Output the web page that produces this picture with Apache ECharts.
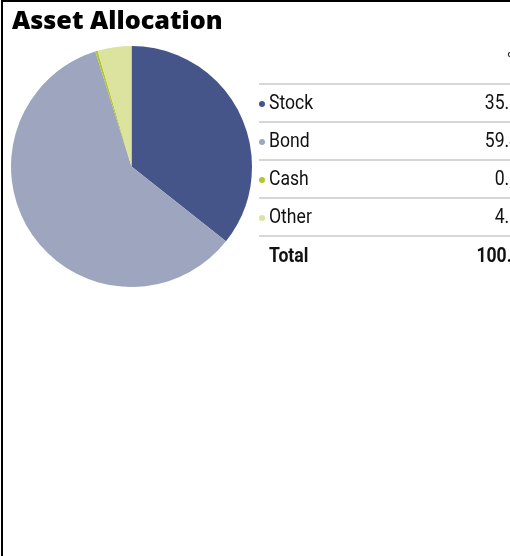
<!DOCTYPE html>
<html>
<head>
<meta charset="utf-8">
<script src="https://cdn.jsdelivr.net/npm/echarts@6/dist/echarts.min.js"></script>
<style>
  html, body { margin: 0; padding: 0; background: #fff; }
  #box { width: 510px; height: 556px; }
</style>
</head>
<body>
<div id="box"></div>
<script>
// 数据
var categories = ["Stock", "Bond", "Cash", "Other"];
var values = [35.66, 59.48, 0.32, 4.54];
var colors = ["#45558a", "#9ea6bf", "#b3c62b", "#dbe39e"];
var totalLabel = "Total";
var totalValue = "100.00";

var chart = echarts.init(document.getElementById("box"));

// 表格部分 (右侧)
var rowTop = 84, rowH = 38, lineX = 259, valueX = 529;
var narrow = 0.88; // 模拟窄体字
var font = "20px Roboto, sans-serif";
var boldFont = "bold 20px Roboto, sans-serif";

function txt(x, y, text, f, align) {
  return {
    type: "text", x: x, y: y, scaleX: narrow,
    style: { text: text, font: f, fill: "#111", align: align || "left", verticalAlign: "middle" }
  };
}

var graphics = [
  // 边框
  { type: "line", shape: { x1: 2, y1: 0, x2: 2, y2: 556 }, style: { stroke: "#000", lineWidth: 2 } },
  { type: "line", shape: { x1: 2, y1: 1, x2: 510, y2: 1 }, style: { stroke: "#000", lineWidth: 2 } },
  { type: "text", x: 12, y: 10, scaleX: 1.05, style: { text: "Asset Allocation", font: "800 24px 'Open Sans'", fill: "#000", verticalAlign: "top" } },
  { type: "text", x: 507, y: 60, style: { text: "%", font: "17px Roboto", fill: "#333", verticalAlign: "middle" } },
  { type: "line", shape: { x1: lineX, y1: rowTop, x2: 510, y2: rowTop }, style: { stroke: "#d6d6d6", lineWidth: 2 } }
];
categories.forEach(function (name, i) {
  var cy = rowTop + rowH * i + rowH / 2 + 1;
  graphics.push({ type: "circle", shape: { cx: 262, cy: cy, r: 3 }, style: { fill: colors[i] } });
  graphics.push(txt(269, cy, name, font));
  graphics.push(txt(valueX, cy, values[i].toFixed(2), font, "right"));
  graphics.push({ type: "line", shape: { x1: lineX, y1: rowTop + rowH * (i + 1), x2: 510, y2: rowTop + rowH * (i + 1) }, style: { stroke: "#d6d6d6", lineWidth: 2 } });
});
var ty = rowTop + rowH * 4 + rowH / 2 + 2;
graphics.push(txt(269, ty, totalLabel, boldFont));
graphics.push(txt(valueX + 3, ty, totalValue, boldFont, "right"));

var option = {
  animation: false,
  graphic: graphics,
  series: [{
    type: "pie",
    center: [131.5, 166.5],
    radius: 120.5,
    startAngle: 90,
    clockwise: true,
    label: { show: false },
    labelLine: { show: false },
    emphasis: { disabled: true },
    itemStyle: { borderWidth: 0 },
    data: categories.map(function (c, i) {
      return { name: c, value: values[i], itemStyle: { color: colors[i] } };
    })
  }]
};
chart.setOption(option);
</script>
</body>
</html>
